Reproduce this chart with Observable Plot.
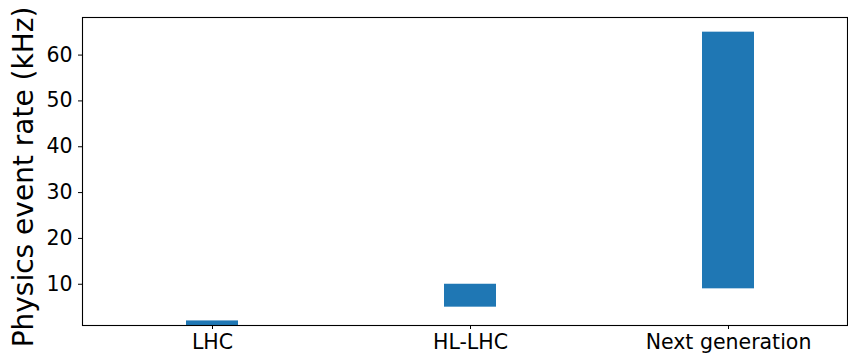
<!DOCTYPE html>
<html>
<head>
<meta charset="utf-8">
<script src="https://cdn.jsdelivr.net/npm/d3@7"></script>
<script src="https://cdn.jsdelivr.net/npm/@observablehq/plot@0.6"></script>
<style>
  html, body { margin: 0; padding: 0; background: #fff; }
  #chart svg { display: block; }
</style>
</head>
<body>
<div id="chart"></div>
<script>
const categories = ["LHC", "HL-LHC", "Next generation"];
const lowValues = [1, 5, 9];
const highValues = [2, 10, 65];
const yTicks = [10, 20, 30, 40, 50, 60];
const yLabel = "Physics event rate (kHz)";

const data = categories.map((c, i) => ({ cat: c, lo: lowValues[i], hi: highValues[i] }));

const chart = Plot.plot({
  width: 848,
  height: 356,
  marginLeft: 82,
  marginRight: 1,
  marginTop: 17,
  marginBottom: 31,
  style: { fontFamily: "DejaVu Sans", color: "black", background: "white" },
  x: { domain: categories, paddingInner: 0.8, paddingOuter: 0.38, align: 0.526, label: null },
  y: { domain: [1, 68.2], label: null },
  marks: [
    Plot.barY(data, { x: "cat", y1: "lo", y2: "hi", fill: "#1f77b4" }),
    Plot.axisX({ tickSize: 4, tickPadding: 5, fontSize: 20.5, label: null, stroke: "black" }),
    Plot.axisY({ ticks: yTicks, tickSize: 4, tickPadding: 6, fontSize: 20.5, label: null, stroke: "black" }),
    Plot.frame({ stroke: "black", strokeWidth: 1.1 }),
    Plot.text([yLabel], { text: d => d, frameAnchor: "left", textAnchor: "middle", rotate: -90, lineAnchor: "bottom", dx: -50, dy: 5.5, fontSize: 28, fill: "black" })
  ]
});
document.getElementById("chart").appendChild(chart);
</script>
</body>
</html>
